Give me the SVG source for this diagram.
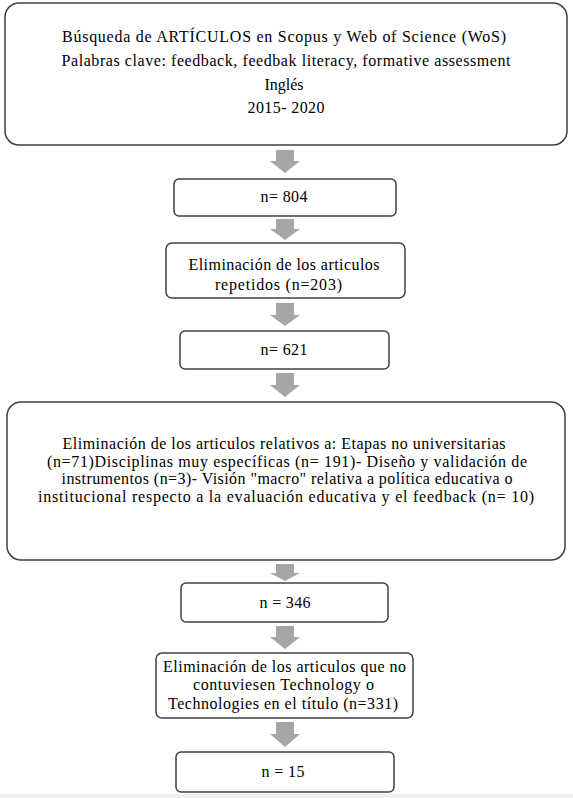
<svg xmlns="http://www.w3.org/2000/svg" width="573" height="798" viewBox="0 0 573 798">
<style>
.box{fill:#fff;stroke:#404040;stroke-width:1.5}
.t{font-family:"Liberation Serif","Times New Roman",serif;font-size:16px;fill:#000;text-anchor:middle}
.arr{fill:#a6a6a6}
</style>
<rect x="0" y="0" width="573" height="798" fill="#fff"/>
<rect x="0" y="794" width="573" height="4" fill="#f0f0f0"/>
<g id="connectors">
<polygon class="arr" points="276,150 294,150 294,161 300,161 285,173 270,161 276,161"/>
<polygon class="arr" points="276,219 294,219 294,229 300,229 285,240 270,229 276,229"/>
<polygon class="arr" points="276,303 294,303 294,315 300,315 285,326 270,315 276,315"/>
<polygon class="arr" points="276,373 294,373 294,385 300,385 285,397 270,385 276,385"/>
<polygon class="arr" points="276,564 294,564 294,573 300,573 285,581 270,573 276,573"/>
<polygon class="arr" points="276,626 294,626 294,637 300,637 285,649 270,637 276,637"/>
<polygon class="arr" points="276,722 294,722 294,734 300,734 285,747 270,734 276,734"/>
</g>
<g id="n1">
<rect class="box" x="5" y="3" width="562" height="142" rx="14"/>
<text class="t" x="284" y="42" textLength="444" lengthAdjust="spacing">Búsqueda de ARTÍCULOS  en Scopus y Web of Science (WoS)</text>
<text class="t" x="286" y="66" textLength="449" lengthAdjust="spacing">Palabras clave: feedback, feedbak literacy, formative assessment</text>
<text class="t" x="284" y="90">Inglés</text>
<text class="t" x="286" y="113" textLength="77" lengthAdjust="spacing">2015-  2020</text>
</g>
<g id="n2">
<rect class="box" x="174" y="179" width="222" height="37" rx="5"/>
<text class="t" x="284" y="202" textLength="47" lengthAdjust="spacing">n= 804</text>
</g>
<g id="n3">
<rect class="box" x="166" y="243" width="239" height="55" rx="6"/>
<text class="t" x="284" y="270" textLength="191" lengthAdjust="spacing">Eliminación  de los articulos</text>
<text class="t" x="278.5" y="290" textLength="127" lengthAdjust="spacing">repetidos (n=203)</text>
</g>
<g id="n4">
<rect class="box" x="180" y="331" width="209" height="38" rx="5"/>
<text class="t" x="284" y="355" textLength="47" lengthAdjust="spacing">n= 621</text>
</g>
<g id="n5">
<rect class="box" x="7" y="402" width="558" height="158" rx="14"/>
<text class="t" x="284" y="449" textLength="443" lengthAdjust="spacing">Eliminación  de los articulos relativos a: Etapas no universitarias</text>
<text class="t" x="287" y="467" textLength="480" lengthAdjust="spacing">(n=71)Disciplinas  muy específicas (n= 191)-  Diseño y validación de</text>
<text class="t" x="287" y="484" textLength="451" lengthAdjust="spacing">instrumentos (n=3)-  Visión  "macro" relativa a política educativa o</text>
<text class="t" x="286" y="502" textLength="496" lengthAdjust="spacing">institucional respecto a la evaluación educativa  y el feedback (n= 10)</text>
</g>
<g id="n6">
<rect class="box" x="181" y="583" width="207" height="39" rx="5"/>
<text class="t" x="285" y="608" textLength="51" lengthAdjust="spacing">n = 346</text>
</g>
<g id="n7">
<rect class="box" x="156" y="653" width="257" height="65" rx="6"/>
<text class="t" x="284.5" y="672" textLength="243" lengthAdjust="spacing">Eliminación  de los articulos que no</text>
<text class="t" x="283.5" y="690" textLength="181" lengthAdjust="spacing">contuviesen Technology o</text>
<text class="t" x="283" y="709" textLength="230" lengthAdjust="spacing">Technologies en el título (n=331)</text>
</g>
<g id="n8">
<rect class="box" x="176" y="752" width="218" height="40" rx="5"/>
<text class="t" x="283" y="777" textLength="43" lengthAdjust="spacing">n = 15</text>
</g>
</svg>
